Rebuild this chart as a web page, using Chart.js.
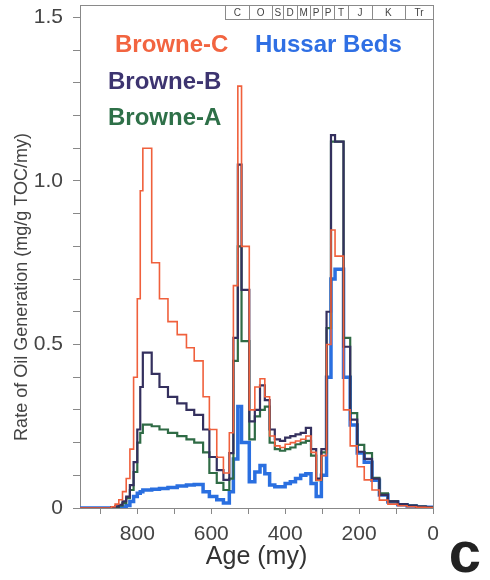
<!DOCTYPE html>
<html>
<head>
<meta charset="utf-8">
<script src="https://cdn.jsdelivr.net/npm/chart.js@4.4.1/dist/chart.umd.min.js"></script>
<style>
  html, body { margin: 0; padding: 0; background: #fff; }
  #wrap { width: 490px; height: 580px; position: relative; }
</style>
</head>
<body>
<div id="wrap"><canvas id="oilChart"></canvas></div>
<script>
// bin boundaries in my, oldest first; every series has one value per bin
const ageEdges = [955, 870, 860, 850, 840, 830, 820, 810, 800, 792, 785, 761, 740, 717, 692, 667, 646, 622, 605, 585,
  567, 551, 540, 528, 518, 497, 482, 468, 455, 442, 428, 414, 400, 386, 372, 358, 344, 330, 316, 302,
  288, 276, 265, 242, 224, 205, 186, 165, 145, 122, 95, 70, 45, 20, 0];

const browneC = [0, 0.004, 0.012, 0.025, 0.05, 0.09, 0.18, 0.40, 0.64, 0.97, 1.10, 0.75, 0.64, 0.57, 0.53, 0.49, 0.45, 0.34, 0.24, 0.155,
  0.107, 0.23, 0.68, 1.29, 0.80, 0.30, 0.37, 0.395, 0.34, 0.22, 0.19, 0.185, 0.195, 0.20, 0.205, 0.21, 0.22, 0.17, 0.085, 0.16,
  0.50, 0.85, 0.77, 0.30, 0.19, 0.126, 0.086, 0.055, 0.024, 0.012, 0.007, 0.004, 0.002, 0.001];

const browneB = [0, 0.002, 0.005, 0.01, 0.02, 0.035, 0.07, 0.14, 0.24, 0.37, 0.475, 0.41, 0.37, 0.34, 0.32, 0.30, 0.285, 0.24, 0.156, 0.116,
  0.086, 0.168, 0.52, 1.05, 0.667, 0.265, 0.30, 0.375, 0.33, 0.24, 0.21, 0.205, 0.215, 0.22, 0.225, 0.23, 0.245, 0.18, 0.09, 0.18,
  0.60, 1.14, 1.12, 0.493, 0.27, 0.172, 0.15, 0.09, 0.04, 0.02, 0.012, 0.007, 0.004, 0.002];

const browneA = [0, 0.001, 0.003, 0.007, 0.015, 0.03, 0.055, 0.11, 0.20, 0.23, 0.255, 0.25, 0.24, 0.23, 0.22, 0.21, 0.20, 0.17, 0.107, 0.077,
  0.055, 0.09, 0.45, 0.80, 0.51, 0.21, 0.28, 0.30, 0.31, 0.20, 0.18, 0.175, 0.18, 0.185, 0.195, 0.20, 0.205, 0.16, 0.085, 0.17,
  0.55, 1.12, 1.12, 0.52, 0.29, 0.193, 0.168, 0.092, 0.045, 0.02, 0.012, 0.007, 0.004, 0.002];

const hussarBeds = [0, 0, 0, 0.001, 0.003, 0.008, 0.02, 0.035, 0.045, 0.05, 0.055, 0.057, 0.06, 0.063, 0.067, 0.07, 0.072, 0.05, 0.035, 0.025,
  0.015, 0.05, 0.15, 0.31, 0.20, 0.08, 0.11, 0.13, 0.105, 0.07, 0.065, 0.065, 0.075, 0.08, 0.09, 0.10, 0.105, 0.075, 0.035, 0.10,
  0.40, 0.70, 0.73, 0.40, 0.254, 0.168, 0.14, 0.085, 0.04, 0.018, 0.01, 0.006, 0.003, 0.002];

const yTickValues = [0, 0.1, 0.2, 0.3, 0.4, 0.5, 0.6, 0.7, 0.8, 0.9, 1.0, 1.1, 1.2, 1.3, 1.4, 1.5];
const xTickValues = [900, 800, 700, 600, 500, 400, 300, 200, 100, 0];

const periodNames = ['C', 'O', 'S', 'D', 'M', 'P', 'P', 'T', 'J', 'K', 'Tr'];
const periodEdges = [562, 497, 435, 405, 368, 332, 300, 268, 230, 165, 76, 0];

const FONT = "'Liberation Sans', Arial, Helvetica, sans-serif";
Chart.defaults.font.family = FONT;

function stepPoints(values) {
  const pts = values.map((v, i) => ({ x: ageEdges[i], y: v }));
  pts.push({ x: ageEdges[ageEdges.length - 1], y: values[values.length - 1] });
  return pts;
}

// frame, period strip, in-plot labels and panel letter
const decorations = {
  id: 'decorations',
  afterDraw(chart) {
    const { ctx, chartArea: a, scales: { x } } = chart;
    ctx.save();
    ctx.strokeStyle = '#8a8a8a';
    ctx.lineWidth = 1;
    ctx.beginPath();
    ctx.moveTo(a.left, a.top + 0.5);
    ctx.lineTo(a.right + 0.5, a.top + 0.5);
    ctx.lineTo(a.right + 0.5, a.bottom);
    ctx.stroke();

    // geologic periods along the top
    const stripH = 14;
    ctx.font = '10px ' + FONT;
    ctx.fillStyle = '#444';
    ctx.textAlign = 'center';
    ctx.textBaseline = 'middle';
    for (let i = 0; i < periodNames.length; i++) {
      const x0 = x.getPixelForValue(periodEdges[i]);
      const x1 = x.getPixelForValue(periodEdges[i + 1]);
      ctx.strokeRect(Math.round(x0) + 0.5, a.top + 0.5, Math.round(x1) - Math.round(x0), stripH);
      ctx.fillText(periodNames[i], (x0 + x1) / 2, a.top + stripH / 2 + 1);
    }

    // series names inside the plot
    const labels = [
      { ds: 0, x: 115, y: 45 },
      { ds: 3, x: 255, y: 45 },
      { ds: 1, x: 108, y: 82 },
      { ds: 2, x: 108, y: 118 }
    ];
    ctx.font = 'bold 24px ' + FONT;
    ctx.textAlign = 'left';
    labels.forEach(l => {
      const d = chart.data.datasets[l.ds];
      ctx.fillStyle = d.labelColor;
      ctx.fillText(d.label, l.x, l.y);
    });

    // y axis title
    ctx.save();
    ctx.translate(22, 287);
    ctx.rotate(-Math.PI / 2);
    ctx.font = '18px ' + FONT;
    ctx.fillStyle = '#444';
    ctx.textAlign = 'center';
    ctx.fillText('Rate of Oil Generation (mg/g TOC/my)', 0, 0);
    ctx.restore();

    // panel letter
    ctx.font = 'bold 58px ' + FONT;
    ctx.fillStyle = '#222';
    ctx.textAlign = 'center';
    ctx.textBaseline = 'alphabetic';
    ctx.fillText('c', 465, 572);
    ctx.restore();
  }
};

const ctx = document.getElementById('oilChart').getContext('2d');
const oilChart = new Chart(ctx, {
  type: 'line',
  data: {
    datasets: [
      { label: 'Browne-C', data: stepPoints(browneC), borderColor: '#f0603c', labelColor: '#f26440', borderWidth: 1.6, order: 0 },
      { label: 'Browne-B', data: stepPoints(browneB), borderColor: '#34305e', labelColor: '#3d3470', borderWidth: 2.2, order: 1 },
      { label: 'Browne-A', data: stepPoints(browneA), borderColor: '#2f6b45', labelColor: '#2e7048', borderWidth: 2.2, order: 2 },
      { label: 'Hussar Beds', data: stepPoints(hussarBeds), borderColor: '#2a6fe0', labelColor: '#2f6fe4', borderWidth: 3.5, order: 3 }
    ]
  },
  options: {
    responsive: true,
    maintainAspectRatio: false,
    animation: false,
    datasets: { line: { stepped: true, pointRadius: 0, fill: false } },
    layout: { padding: { left: 0, right: 57, top: 5, bottom: 0 } },
    plugins: { legend: { display: false }, tooltip: { enabled: false } },
    scales: {
      x: {
        type: 'linear',
        reverse: true,
        min: 0,
        max: 955,
        afterBuildTicks: s => { s.ticks = xTickValues.map(v => ({ value: v })); },
        afterFit: s => { s.height = 72; s.paddingLeft = 0; s.paddingRight = 0; },
        grid: { drawOnChartArea: false, drawTicks: true, tickLength: 6, color: '#888' },
        border: { display: true, color: '#888', width: 1 },
        ticks: {
          font: { size: 21 }, color: '#444', padding: 8, maxRotation: 0, autoSkip: false,
          callback: v => (v % 200 === 0 ? String(v) : '')
        },
        title: { display: true, text: 'Age (my)', font: { size: 25 }, color: '#333', padding: { top: 0, bottom: 8 } }
      },
      y: {
        min: 0,
        max: 1.538,
        afterBuildTicks: s => { s.ticks = yTickValues.map(v => ({ value: v })); },
        afterFit: s => { s.width = 80; s.paddingTop = 0; s.paddingBottom = 0; },
        grid: { drawOnChartArea: false, drawTicks: true, tickLength: 7, color: '#888' },
        border: { display: true, color: '#888', width: 1 },
        ticks: {
          font: { size: 21 }, color: '#444', padding: 10, autoSkip: false,
          callback: v => {
            if (Math.abs(v * 2 - Math.round(v * 2)) > 1e-9) return '';
            return v === 0 ? '0' : v.toFixed(1);
          }
        }
      }
    }
  },
  plugins: [decorations]
});
</script>
</body>
</html>
